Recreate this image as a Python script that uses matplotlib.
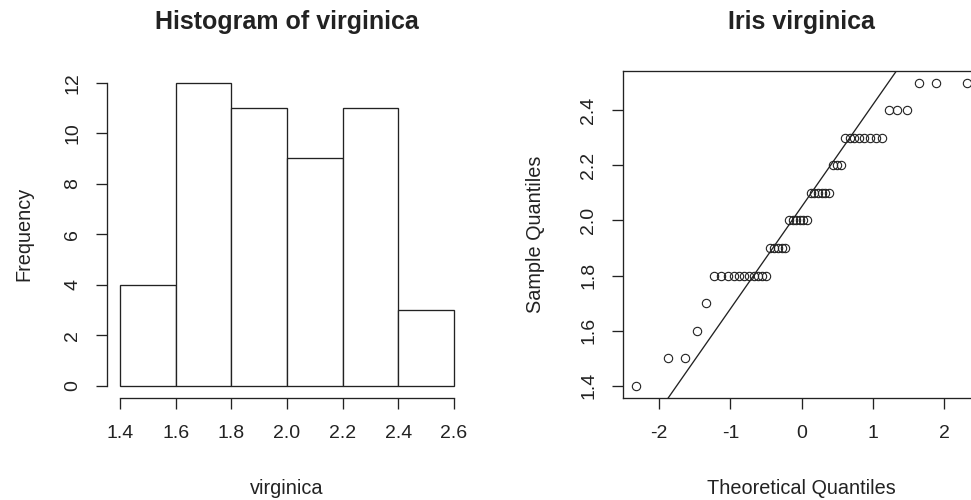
import numpy as np
import matplotlib
matplotlib.use("Agg")
import matplotlib.pyplot as plt
from statistics import NormalDist

# Iris virginica petal widths
virginica = [2.5, 1.9, 2.1, 1.8, 2.2, 2.1, 1.7, 1.8, 1.8, 2.5,
             2.0, 1.9, 2.1, 2.0, 2.4, 2.3, 1.8, 2.2, 2.3, 1.5,
             2.3, 2.0, 2.0, 1.8, 2.1, 1.8, 1.8, 1.8, 2.1, 1.6,
             1.9, 2.0, 2.2, 1.5, 1.4, 2.3, 2.4, 1.8, 1.8, 2.1,
             2.4, 2.3, 1.9, 2.3, 2.5, 2.3, 1.9, 2.0, 2.3, 1.8]
breaks = [1.4, 1.6, 1.8, 2.0, 2.2, 2.4, 2.6]
hist_xticks = [1.4, 1.6, 1.8, 2.0, 2.2, 2.4, 2.6]
hist_yticks = [0, 2, 4, 6, 8, 10, 12]
qq_xticks = [-2, -1, 0, 1, 2]
qq_yticks = [1.4, 1.6, 1.8, 2.0, 2.2, 2.4]

plt.rcParams['font.family'] = ['Liberation Sans', 'DejaVu Sans']
plt.rcParams['axes.unicode_minus'] = False

W, H = 971, 500
fig = plt.figure(figsize=(W / 100, H / 100), dpi=100)

TICK_FS = 14
LAB_FS = 14.3
TITLE_FS = 18
TICKLEN = 8.0
LW = 0.95
INK = '#222222'


def px_axes(x0, y0, w, h):
    return fig.add_axes([x0 / W, (H - y0 - h) / H, w / W, h / H])


def r_range(lo, hi):
    d = (hi - lo) * 0.04
    return lo - d, hi + d


# ---------- Histogram (right-closed bins, like R) ----------
x = np.asarray(virginica)
b = np.asarray(breaks)
neg_counts, _ = np.histogram(-x, bins=-b[::-1])
counts = neg_counts[::-1]

ax1 = px_axes(106.6, 70.6, 360.8, 327.2)
ax1.bar(b[:-1], counts, width=np.diff(b), align='edge',
        facecolor='white', edgecolor=INK, linewidth=LW)
ax1.set_xlim(*r_range(b[0], b[-1]))
ax1.set_ylim(*r_range(0, max(hist_yticks)))
for s in ['top', 'right']:
    ax1.spines[s].set_visible(False)
ax1.spines['left'].set_bounds(0, 12)
ax1.spines['bottom'].set_bounds(1.4, 2.6)
ax1.set_xticks(hist_xticks)
ax1.set_xticklabels([f"{v:.1f}" for v in hist_xticks])
ax1.set_yticks(hist_yticks)
ax1.set_yticklabels([str(v) for v in hist_yticks], rotation=90, va='center')
ax1.set_title("Histogram of virginica", fontsize=TITLE_FS, fontweight='bold',
              y=1.1262, pad=0, va='baseline', color=INK)
ax1.set_xlabel("virginica", fontsize=LAB_FS, va='center', color=INK)
ax1.xaxis.set_label_coords(0.5, -0.2757)
ax1.set_ylabel("Frequency", fontsize=LAB_FS, va='center', ha='center', color=INK)
ax1.yaxis.set_label_coords(-0.228, 0.5)

# ---------- Normal Q-Q plot ----------
n = len(x)
a = 3 / 8 if n <= 10 else 0.5
pp = (np.arange(1, n + 1) - a) / (n + 1 - 2 * a)
nd = NormalDist()
theo = np.array([nd.inv_cdf(p) for p in pp])
ys = np.sort(x)

ax2 = px_axes(622.7, 70.6, 358.0, 327.2)
ax2.plot(theo, ys, linestyle='none', marker='o', markersize=6.0,
         markerfacecolor='none', markeredgecolor=INK, markeredgewidth=0.8)
q1, q3 = np.percentile(x, [25, 75])
z1, z3 = nd.inv_cdf(0.25), nd.inv_cdf(0.75)
slope = (q3 - q1) / (z3 - z1)
inter = q1 - slope * z1
ax2.axline((0, inter), slope=slope, color=INK, linewidth=LW)
ax2.set_xlim(*r_range(theo.min(), theo.max()))
ax2.set_ylim(*r_range(ys.min(), ys.max()))
ax2.set_xticks(qq_xticks)
ax2.set_xticklabels([str(v) for v in qq_xticks])
ax2.set_yticks(qq_yticks)
ax2.set_yticklabels([f"{v:.1f}" for v in qq_yticks], rotation=90, va='center')
ax2.set_title("Iris virginica", fontsize=TITLE_FS, fontweight='bold',
              y=1.1262, pad=0, va='baseline', color=INK)
ax2.set_xlabel("Theoretical Quantiles", fontsize=LAB_FS, va='center', color=INK)
ax2.xaxis.set_label_coords(0.5, -0.2757)
ax2.set_ylabel("Sample Quantiles", fontsize=LAB_FS, va='center', ha='center', color=INK)
ax2.yaxis.set_label_coords((535 - 622.7) / 358.0, 0.5)

for ax in (ax1, ax2):
    for s in ax.spines.values():
        s.set_linewidth(LW)
        s.set_color(INK)
    ax.tick_params(axis='both', direction='out', length=TICKLEN, width=LW,
                   labelsize=TICK_FS, colors=INK)
    ax.tick_params(axis='x', pad=11.5)
    ax.tick_params(axis='y', pad=10.3)
    ax.set_facecolor('white')

fig.savefig("out.png", dpi=100, facecolor='white')
